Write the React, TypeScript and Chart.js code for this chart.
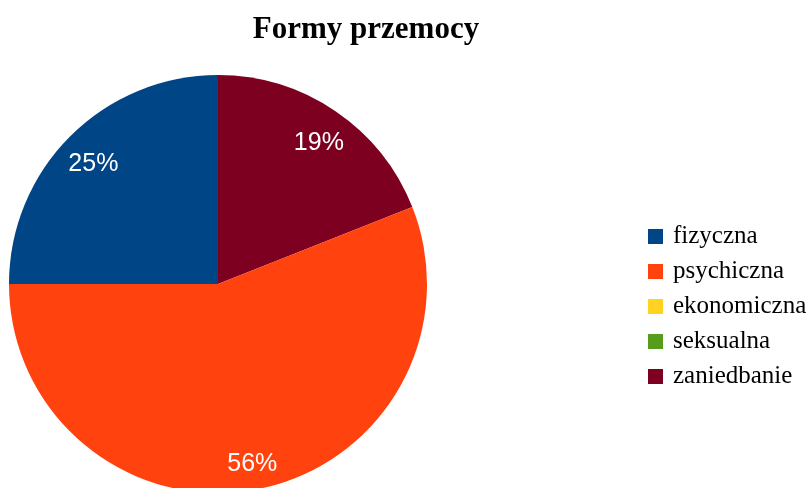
import React, { useEffect, useRef } from "react";
import { Chart, registerables } from "chart.js";

Chart.register(...registerables);

const chartTitle = "Formy przemocy";
const categories = ["fizyczna", "psychiczna", "ekonomiczna", "seksualna", "zaniedbanie"];
const values = [25, 56, 0, 0, 19];
const colors = ["#004586", "#ff420e", "#ffd320", "#579d1c", "#7e0021"];

const overlayPlugin = {
  id: "overlay",
  afterDraw(chart: any) {
    const ctx = chart.ctx as CanvasRenderingContext2D;
    const meta = chart.getDatasetMeta(0);
    const data = chart.data.datasets[0].data as number[];
    const total = data.reduce((a, b) => a + b, 0);
    ctx.save();
    // percentage labels
    ctx.fillStyle = "#ffffff";
    ctx.font = "25px 'Liberation Sans', Arial, sans-serif";
    ctx.textAlign = "center";
    ctx.textBaseline = "middle";
    meta.data.forEach((arc: any, i: number) => {
      const v = data[i];
      if (!v) return;
      const p = arc.getProps(["x", "y", "startAngle", "endAngle", "outerRadius"], true);
      const mid = (p.startAngle + p.endAngle) / 2;
      const r = p.outerRadius * 0.85;
      const x = p.x + Math.cos(mid) * r + 1;
      const y = p.y + Math.sin(mid) * r + 6;
      ctx.fillText(Math.round((v / total) * 100) + "%", x, y);
    });
    // title
    ctx.fillStyle = "#000000";
    ctx.font = "bold 31px 'Liberation Serif', 'Times New Roman', serif";
    ctx.textAlign = "center";
    ctx.textBaseline = "alphabetic";
    ctx.fillText(chartTitle, 366, 38);
    // legend
    ctx.textAlign = "left";
    ctx.font = "25px 'Liberation Serif', 'Times New Roman', serif";
    categories.forEach((name, i) => {
      const top = 229 + i * 35;
      ctx.fillStyle = colors[i];
      ctx.fillRect(648, top, 15, 15);
      ctx.fillStyle = "#000000";
      ctx.fillText(name, 673, top + 14);
    });
    ctx.restore();
  },
};

export default function App() {
  const ref = useRef<HTMLCanvasElement | null>(null);
  useEffect(() => {
    if (!ref.current) return;
    // Chart.js draws clockwise; the reference goes counter-clockwise, so reverse order
    const labels = [...categories].reverse();
    const data = [...values].reverse();
    const bg = [...colors].reverse();
    const chart = new Chart(ref.current, {
      type: "pie",
      data: {
        labels,
        datasets: [
          {
            data,
            backgroundColor: bg,
            borderWidth: 0,
            hoverOffset: 0,
          },
        ],
      },
      options: {
        responsive: false,
        animation: false,
        devicePixelRatio: 1,
        events: [],
        layout: { padding: { left: 9, right: 384, top: 75, bottom: 7 } },
        plugins: {
          legend: { display: false },
          title: { display: false },
          tooltip: { enabled: false },
        },
      },
      plugins: [overlayPlugin],
    });
    return () => chart.destroy();
  }, []);
  return (
    <div style={{ position: "fixed", left: 0, top: 0, width: 811, height: 500, background: "#fff" }}>
      <canvas ref={ref} width={811} height={500} style={{ width: 811, height: 500, display: "block" }} />
    </div>
  );
}
